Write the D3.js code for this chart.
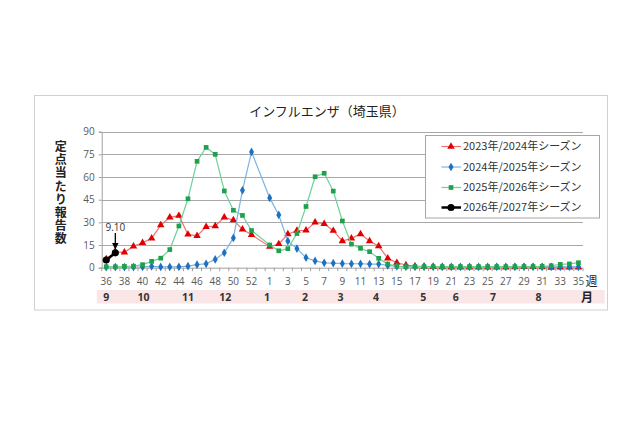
<!DOCTYPE html>
<html><head><meta charset="utf-8">
<script src="https://cdn.jsdelivr.net/npm/d3@7"></script>
<style>
html,body{margin:0;padding:0;background:#fff;}
svg{display:block;font-family:"Open Sans","Noto Sans CJK JP",sans-serif;}
</style></head>
<body>
<svg id="c" width="640" height="426"></svg>
<script>
// ---- data ----
const weeks = [36,37,38,39,40,41,42,43,44,45,46,47,48,49,50,51,52,53,
  1,2,3,4,5,6,7,8,9,10,11,12,13,14,15,16,17,18,19,20,21,22,23,24,25,26,27,28,29,30,31,32,33,34,35];
const seriesNames = ["2023年/2024年シーズン","2024年/2025年シーズン","2025年/2026年シーズン","2026年/2027年シーズン"];
const s2023 = [5.8,10.5,10.2,14.2,16.5,19.4,28.2,33.3,34.4,22.0,21.1,27.1,27.6,33.3,31.5,25.4,21.8,null,
  13.9,15.7,22.2,24.6,24.7,30.0,29.1,24.5,17.6,19.4,22.3,17.6,14.3,6.2,3.3,1.8,1.0,0.8,0.6,0.4,0.2,0.2,0.3,0.3,0.3,0.3,0.3,0.4,0.5,0.5,0.4,0.1,0.3,0.3,0.3];
const s2024 = [0.4,0.4,0.4,0.4,0.5,0.9,0.5,0.5,0.6,1.0,2.0,2.6,5.5,9.9,19.7,51.2,76.6,null,
  46.2,34.9,17.6,12.6,6.6,4.5,3.2,3.0,2.7,2.6,2.6,2.4,2.4,1.5,0.9,0.7,0.6,0.6,0.6,0.5,0.5,0.5,0.5,0.5,0.5,0.5,0.5,0.5,0.5,0.5,0.5,0.5,0.6,0.6,0.6];
const s2025 = [0.6,0.6,0.9,1.0,2.0,4.2,6.3,12.0,27.6,45.6,70.4,79.6,75.0,50.8,38.0,34.6,24.6,null,
  15.0,11.2,12.6,22.6,40.5,60.2,62.5,50.7,30.9,15.6,12.8,10.6,6.2,2.4,1.1,0.6,0.7,0.7,0.7,0.7,0.7,0.7,0.7,0.7,0.7,0.7,0.7,0.7,0.8,0.8,0.9,1.3,2.2,2.5,3.3];
const s2026 = [5.1,9.8];
const yTicks = [0,15,30,45,60,75,90];
const monthLabels = ["9","10","11","12","1","2","3","4","5","6","7","8"];
const monthAt = [0,4.1,9,13.1,17.7,21.9,25.8,29.7,34.9,38.5,42.6,47.6]; // category index (layout)
const titleText = "インフルエンザ（埼玉県）";
const yTitle = "定点当たり報告数";
const annot = "9.10";

// ---- layout ----
const svg = d3.select("#c");
const L = 101.7, R = 583, T = 131.7, B = 267.7;
const x = d3.scaleBand().domain(d3.range(weeks.length)).range([L, R]).padding(0);
const cx = i => x(i) + x.bandwidth()/2;
const y = d3.scaleLinear().domain([0,90]).range([B, T]);
const step = x.bandwidth();

svg.append("rect").attr("x",0).attr("y",0).attr("width",640).attr("height",426).attr("fill","#fff");
svg.append("rect").attr("x",34.5).attr("y",95.5).attr("width",573).attr("height",214.5)
  .attr("fill","#fff").attr("stroke","#d0d0d0");

// title
svg.append("text").attr("x",327).attr("y",116).attr("text-anchor","middle")
  .attr("font-size",13).attr("fill","#222").attr("font-family","Noto Sans CJK JP").text(titleText);

// gridlines
svg.append("g").selectAll("line").data(yTicks.filter(d=>d>0)).join("line")
  .attr("x1",L).attr("x2",R).attr("y1",d=>Math.round(y(d))+0.5).attr("y2",d=>Math.round(y(d))+0.5)
  .attr("stroke","#a8a8a8").attr("stroke-width",1);

// y axis
const ya = svg.append("g").attr("transform",`translate(${L},0)`)
  .call(d3.axisLeft(y).tickValues(yTicks).tickSize(3).tickPadding(4));
ya.select(".domain").attr("stroke","#a0a0a0");
ya.selectAll(".tick line").attr("stroke","#a0a0a0");
ya.selectAll(".tick text").attr("font-size",10).attr("fill","#595959").attr("font-family","Open Sans");

// x axis line + ticks at band boundaries
const xa = svg.append("g");
xa.append("line").attr("x1",L).attr("x2",R).attr("y1",B+0.5).attr("y2",B+0.5).attr("stroke","#a0a0a0");
xa.selectAll("line.tk").data(d3.range(weeks.length+1)).join("line").attr("class","tk")
  .attr("x1",i=>L+i*step).attr("x2",i=>L+i*step).attr("y1",B).attr("y2",B+3.5).attr("stroke","#a0a0a0");
xa.selectAll("text").data(weeks.map((w,i)=>({w,i})).filter(d=>d.i%2===0)).join("text")
  .attr("x",d=>cx(d.i)).attr("y",285).attr("text-anchor","middle")
  .attr("font-size",10).attr("fill","#595959").attr("font-family","Open Sans").text(d=>d.w);
svg.append("text").attr("x",591.5).attr("y",286).attr("text-anchor","middle")
  .attr("font-size",12).attr("fill","#222").attr("font-family","Noto Sans CJK JP").text("週");

// month band
svg.append("rect").attr("x",96.7).attr("y",290).attr("width",508).attr("height",13.5).attr("fill","#fbe6e7");
svg.append("g").selectAll("text").data(monthLabels).join("text")
  .attr("x",(d,i)=>cx(0)+monthAt[i]*step).attr("y",300.5).attr("text-anchor","middle")
  .attr("font-size",10.5).attr("font-weight","bold").attr("fill","#333").attr("font-family","Open Sans").text(d=>d);
svg.append("text").attr("x",587).attr("y",301.5).attr("text-anchor","middle")
  .attr("font-size",12).attr("font-weight","bold").attr("fill","#222").attr("font-family","Noto Sans CJK JP").text("月");

// y title (vertical)
svg.append("text").attr("x",60.7).attr("y",140.5)
  .style("writing-mode","vertical-rl").style("text-orientation","upright")
  .attr("letter-spacing",1.2)
  .attr("font-size",12).attr("font-weight","bold").attr("fill","#222").attr("font-family","Noto Sans CJK JP")
  .text(yTitle);

// series
const cfg = [
  {data:s2023, line:"#ef6f6f", mark:"#e00000", sym:d3.symbolTriangle, size:24, w:1.2},
  {data:s2024, line:"#7db3e3", mark:"#2070c0", sym:d3.symbolDiamond, size:22, w:1.2},
  {data:s2025, line:"#6fd19a", mark:"#1fa04c", sym:d3.symbolSquare, size:22, w:1.2},
  {data:s2026, line:"#000", mark:"#000", sym:d3.symbolCircle, size:40, w:2.5}
];
const lineGen = d3.line().x(d=>cx(d.i)).y(d=>y(d.v));
cfg.forEach(c=>{
  const pts = c.data.map((v,i)=>({v,i})).filter(d=>d.v!=null);
  const g = svg.append("g");
  g.append("path").datum(pts).attr("d",lineGen).attr("fill","none")
    .attr("stroke",c.line).attr("stroke-width",c.w);
  g.selectAll("path.m").data(pts).join("path").attr("class","m")
    .attr("transform",d=>`translate(${cx(d.i)},${y(d.v)})`)
    .attr("d",d3.symbol(c.sym,c.size)).attr("fill",c.mark);
});

// annotation
svg.append("text").attr("x",cx(1)).attr("y",231).attr("text-anchor","middle")
  .attr("font-size",10).attr("fill","#333").attr("font-family","Open Sans").text(annot);
svg.append("defs").append("marker").attr("id","ah").attr("viewBox","0 0 10 10").attr("refX",9).attr("refY",5)
  .attr("markerWidth",5).attr("markerHeight",5).attr("orient","auto")
  .append("path").attr("d","M0,0L10,5L0,10z").attr("fill","#000");
svg.append("line").attr("x1",cx(1)).attr("x2",cx(1)).attr("y1",233).attr("y2",y(s2026[1])-4)
  .attr("stroke","#000").attr("stroke-width",1.3).attr("marker-end","url(#ah)");

// legend
const lg = svg.append("g");
lg.append("rect").attr("x",425.5).attr("y",135.5).attr("width",174).attr("height",82.5)
  .attr("fill","#fff").attr("stroke","#a6a6a6");
const rows = [146.5,167,187.5,207.5];
cfg.forEach((c,i)=>{
  lg.append("line").attr("x1",441.5).attr("x2",461).attr("y1",rows[i]).attr("y2",rows[i])
    .attr("stroke",c.line).attr("stroke-width",c.w);
  lg.append("path").attr("transform",`translate(451,${rows[i]})`).attr("d",d3.symbol(c.sym,c.size)).attr("fill",c.mark);
  lg.append("text").attr("x",463).attr("y",rows[i]).attr("dy","0.36em")
    .attr("font-size",11).attr("fill","#333").attr("font-family","Noto Sans CJK JP").text(seriesNames[i]);
});
</script>
</body></html>
